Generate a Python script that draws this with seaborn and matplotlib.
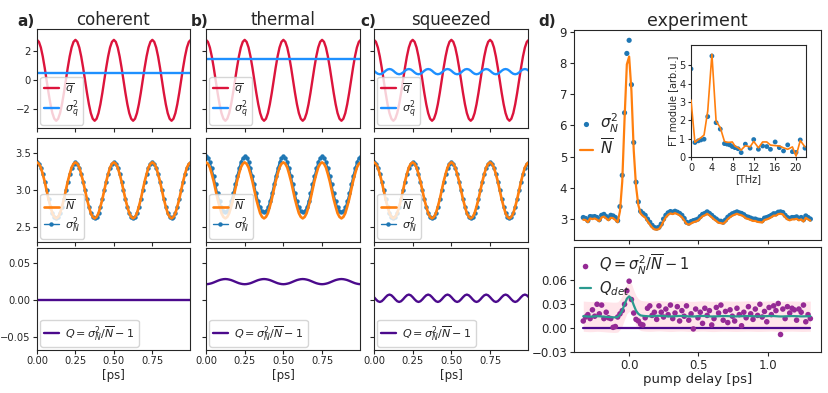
import numpy as np
import matplotlib
matplotlib.use('Agg')
import matplotlib.pyplot as plt
import seaborn as sns

# ---------------- theory panels a-c (time in ps) ----------------
t_theory = np.linspace(0, 1, 81)

q_mean = [2.80, 2.66, 2.27, 1.65, 0.87, 0.00, -0.87, -1.65, -2.27, -2.66, -2.80, -2.66, -2.27, -1.65, -0.87, 0.00, 0.87, 1.65, 2.27, 2.66,
          2.80, 2.66, 2.27, 1.65, 0.87, 0.00, -0.87, -1.65, -2.27, -2.66, -2.80, -2.66, -2.27, -1.65, -0.87, 0.00, 0.87, 1.65, 2.27, 2.66,
          2.80, 2.66, 2.27, 1.65, 0.87, 0.00, -0.87, -1.65, -2.27, -2.66, -2.80, -2.66, -2.27, -1.65, -0.87, 0.00, 0.87, 1.65, 2.27, 2.66,
          2.80, 2.66, 2.27, 1.65, 0.87, 0.00, -0.87, -1.65, -2.27, -2.66, -2.80, -2.66, -2.27, -1.65, -0.87, 0.00, 0.87, 1.65, 2.27, 2.66,
          2.80]

var_q_coherent = [0.5] * 81
var_q_thermal = [1.5] * 81
var_q_squeezed = [0.66, 0.54, 0.45, 0.42, 0.45, 0.54, 0.66, 0.75, 0.78, 0.75, 0.66, 0.54, 0.45, 0.42, 0.45, 0.54, 0.66, 0.75, 0.78, 0.75,
                  0.66, 0.54, 0.45, 0.42, 0.45, 0.54, 0.66, 0.75, 0.78, 0.75, 0.66, 0.54, 0.45, 0.42, 0.45, 0.54, 0.66, 0.75, 0.78, 0.75,
                  0.66, 0.54, 0.45, 0.42, 0.45, 0.54, 0.66, 0.75, 0.78, 0.75, 0.66, 0.54, 0.45, 0.42, 0.45, 0.54, 0.66, 0.75, 0.78, 0.75,
                  0.66, 0.54, 0.45, 0.42, 0.45, 0.54, 0.66, 0.75, 0.78, 0.75, 0.66, 0.54, 0.45, 0.42, 0.45, 0.54, 0.66, 0.75, 0.78, 0.75,
                  0.66]

N_mean = [3.38, 3.36, 3.31, 3.22, 3.12, 3.00, 2.88, 2.78, 2.69, 2.64, 2.62, 2.64, 2.69, 2.78, 2.88, 3.00, 3.12, 3.22, 3.31, 3.36,
          3.38, 3.36, 3.31, 3.22, 3.12, 3.00, 2.88, 2.78, 2.69, 2.64, 2.62, 2.64, 2.69, 2.78, 2.88, 3.00, 3.12, 3.22, 3.31, 3.36,
          3.38, 3.36, 3.31, 3.22, 3.12, 3.00, 2.88, 2.78, 2.69, 2.64, 2.62, 2.64, 2.69, 2.78, 2.88, 3.00, 3.12, 3.22, 3.31, 3.36,
          3.38, 3.36, 3.31, 3.22, 3.12, 3.00, 2.88, 2.78, 2.69, 2.64, 2.62, 2.64, 2.69, 2.78, 2.88, 3.00, 3.12, 3.22, 3.31, 3.36,
          3.38]

var_N_thermal = [3.46, 3.44, 3.39, 3.30, 3.20, 3.08, 2.96, 2.86, 2.77, 2.72, 2.70, 2.72, 2.77, 2.86, 2.96, 3.08, 3.20, 3.30, 3.39, 3.44,
                 3.46, 3.44, 3.39, 3.30, 3.20, 3.08, 2.96, 2.86, 2.77, 2.72, 2.70, 2.72, 2.77, 2.86, 2.96, 3.08, 3.20, 3.30, 3.39, 3.44,
                 3.46, 3.44, 3.39, 3.30, 3.20, 3.08, 2.96, 2.86, 2.77, 2.72, 2.70, 2.72, 2.77, 2.86, 2.96, 3.08, 3.20, 3.30, 3.39, 3.44,
                 3.46, 3.44, 3.39, 3.30, 3.20, 3.08, 2.96, 2.86, 2.77, 2.72, 2.70, 2.72, 2.77, 2.86, 2.96, 3.08, 3.20, 3.30, 3.39, 3.44,
                 3.46]

Q_coherent = [0.0] * 81
Q_thermal = [0.0210, 0.0212, 0.0217, 0.0224, 0.0234, 0.0245, 0.0256, 0.0266, 0.0273, 0.0278, 0.0280, 0.0278, 0.0273, 0.0266, 0.0256, 0.0245, 0.0234, 0.0224, 0.0217, 0.0212,
             0.0210, 0.0212, 0.0217, 0.0224, 0.0234, 0.0245, 0.0256, 0.0266, 0.0273, 0.0278, 0.0280, 0.0278, 0.0273, 0.0266, 0.0256, 0.0245, 0.0234, 0.0224, 0.0217, 0.0212,
             0.0210, 0.0212, 0.0217, 0.0224, 0.0234, 0.0245, 0.0256, 0.0266, 0.0273, 0.0278, 0.0280, 0.0278, 0.0273, 0.0266, 0.0256, 0.0245, 0.0234, 0.0224, 0.0217, 0.0212,
             0.0210, 0.0212, 0.0217, 0.0224, 0.0234, 0.0245, 0.0256, 0.0266, 0.0273, 0.0278, 0.0280, 0.0278, 0.0273, 0.0266, 0.0256, 0.0245, 0.0234, 0.0224, 0.0217, 0.0212,
             0.0210]
Q_squeezed = [0.0035, 0.0005, -0.0020, -0.0030, -0.0020, 0.0005, 0.0035, 0.0060, 0.0070, 0.0060, 0.0035, 0.0005, -0.0020, -0.0030, -0.0020, 0.0005, 0.0035, 0.0060, 0.0070, 0.0060,
              0.0035, 0.0005, -0.0020, -0.0030, -0.0020, 0.0005, 0.0035, 0.0060, 0.0070, 0.0060, 0.0035, 0.0005, -0.0020, -0.0030, -0.0020, 0.0005, 0.0035, 0.0060, 0.0070, 0.0060,
              0.0035, 0.0005, -0.0020, -0.0030, -0.0020, 0.0005, 0.0035, 0.0060, 0.0070, 0.0060, 0.0035, 0.0005, -0.0020, -0.0030, -0.0020, 0.0005, 0.0035, 0.0060, 0.0070, 0.0060,
              0.0035, 0.0005, -0.0020, -0.0030, -0.0020, 0.0005, 0.0035, 0.0060, 0.0070, 0.0060, 0.0035, 0.0005, -0.0020, -0.0030, -0.0020, 0.0005, 0.0035, 0.0060, 0.0070, 0.0060,
              0.0035]

# ---------------- experiment (panel d) ----------------
t_exp = np.linspace(-0.333, 1.31, 100)

var_N_exp = [3.05, 3.02, 2.95, 3.08, 3.07, 3.08, 3.05, 2.98, 3.12, 3.15, 3.08, 3.02, 3.12, 3.10, 3.05, 2.95,
             3.40, 4.40, 6.40, 8.30, 8.72, 7.30, 5.45, 4.18, 3.55, 3.25,
             3.18, 3.12, 3.00, 2.90, 2.80, 2.73, 2.71, 2.74, 2.84, 3.00, 3.12, 3.20, 3.24, 3.22,
             3.25, 3.22, 3.18, 3.12, 3.02, 2.90, 2.87, 2.92, 2.95, 2.97, 3.00, 3.08, 3.15, 3.18, 3.23, 3.18, 3.12, 3.05, 3.00, 2.94,
             2.93, 2.90, 2.97, 3.06, 3.12, 3.17, 3.20, 3.23, 3.20, 3.18, 3.14, 3.08, 3.06, 3.03, 3.00, 3.00, 2.97, 2.96, 2.95, 3.03,
             3.05, 3.08, 3.12, 3.17, 3.17, 3.22, 3.23, 3.21, 3.12, 3.05, 3.02, 3.05, 3.05, 3.07, 3.02, 3.05, 2.98, 3.10, 3.05, 3.00]

N_exp = [2.98, 2.97, 2.90, 3.02, 3.00, 3.02, 2.98, 2.93, 3.05, 3.08, 3.02, 2.96, 3.04, 3.03, 2.97, 2.90,
         3.25, 4.20, 6.20, 7.95, 8.20, 7.10, 5.20, 4.05, 3.45, 3.18,
         3.10, 3.05, 2.93, 2.83, 2.73, 2.67, 2.66, 2.68, 2.78, 2.93, 3.06, 3.14, 3.18, 3.16,
         3.19, 3.16, 3.12, 3.06, 2.96, 2.85, 2.82, 2.86, 2.90, 2.92, 2.95, 3.02, 3.09, 3.12, 3.17, 3.12, 3.06, 2.99, 2.94, 2.88,
         2.87, 2.85, 2.91, 3.00, 3.06, 3.11, 3.14, 3.17, 3.14, 3.12, 3.08, 3.02, 3.00, 2.97, 2.94, 2.94, 2.91, 2.90, 2.89, 2.97,
         2.99, 3.02, 3.06, 3.11, 3.11, 3.16, 3.17, 3.15, 3.06, 2.99, 2.96, 2.99, 2.99, 3.01, 2.96, 2.99, 2.92, 3.04, 2.99, 2.95]

Q_exp = [0.009, 0.014, 0.017, 0.012, 0.023, 0.015, 0.030, 0.018, 0.029, 0.012, 0.020, 0.013, 0.012, 0.001, 0.002, 0.014, 0.018, 0.022, 0.030, 0.047,
         0.059, 0.036, 0.019, 0.011, 0.009, 0.005, 0.004, 0.013, 0.025, 0.028, 0.016, 0.020, 0.011, 0.028, 0.020, 0.014, 0.024, 0.017, 0.029, 0.012,
         0.019, 0.027, 0.009, 0.022, 0.015, 0.028, 0.010, 0.018, -0.001, 0.024, 0.013, 0.020, 0.006, 0.025, 0.016, 0.022, 0.004, 0.012, 0.026, 0.019,
         0.029, 0.010, 0.021, 0.007, 0.023, 0.015, 0.009, 0.025, 0.017, 0.003, 0.020, 0.013, 0.027, 0.018, 0.011, 0.024, 0.016, 0.030, 0.014, 0.021,
         0.008, 0.026, 0.017, 0.028, 0.022, 0.031, -0.008, 0.024, 0.012, 0.027, 0.019, 0.025, 0.023, 0.010, 0.024, 0.020, 0.029, 0.008, 0.017, 0.012]

Q_det = [0.0150, 0.0148, 0.0146, 0.0145, 0.0146, 0.0148, 0.0150, 0.0149, 0.0147, 0.0145, 0.0142, 0.0140, 0.0138, 0.0136, 0.0136, 0.0140,
         0.0170, 0.0220, 0.0300, 0.0370, 0.0400, 0.0370, 0.0290, 0.0220, 0.0180, 0.0160,
         0.0155, 0.0152, 0.0150, 0.0149, 0.0150, 0.0152, 0.0154, 0.0155, 0.0154, 0.0152, 0.0150, 0.0148, 0.0147, 0.0148, 0.0150, 0.0152, 0.0153, 0.0153, 0.0152, 0.0150,
         0.0148, 0.0147, 0.0147, 0.0148, 0.0150, 0.0152, 0.0153, 0.0152, 0.0150, 0.0148, 0.0147, 0.0147, 0.0148, 0.0150, 0.0151, 0.0152, 0.0152, 0.0151, 0.0150, 0.0149,
         0.0148, 0.0148, 0.0149, 0.0150, 0.0151, 0.0152, 0.0152, 0.0151, 0.0150, 0.0149, 0.0148, 0.0148, 0.0149, 0.0150, 0.0151, 0.0152, 0.0153, 0.0152, 0.0150, 0.0148,
         0.0147, 0.0147, 0.0148, 0.0150, 0.0151, 0.0152, 0.0151, 0.0150, 0.0149, 0.0148, 0.0148, 0.0149, 0.0150, 0.0150]
Q_det_halfwidth = 0.019
Q_zero = [0.0] * 100

# inset: Fourier transform
freq_THz = [0.0, 0.75, 1.4, 1.9, 2.5, 3.2, 4.0, 4.8, 5.6, 6.4, 6.9, 7.4, 7.9, 8.4, 9.0, 9.6, 10.4, 11.3, 12.0, 12.9,
            13.7, 14.5, 15.2, 16.1, 16.9, 17.7, 18.5, 19.4, 20.1, 20.9, 21.8]
ft_var = [4.8, 0.79, 0.88, 0.93, 0.97, 2.2, 5.5, 1.87, 1.52, 0.73, 0.70, 0.66, 0.57, 0.51, 0.45, 0.24, 0.70, 0.48, 0.95, 0.42,
          0.60, 0.57, 0.42, 0.82, 0.51, 0.33, 0.66, 0.29, 0.25, 0.93, 0.48]
ft_mean = [3.1, 0.8, 0.95, 1.05, 1.2, 2.5, 5.6, 1.95, 1.6, 0.85, 0.8, 0.8, 0.82, 0.6, 0.5, 0.38, 0.62, 0.55, 0.85, 0.5,
           0.82, 0.82, 0.65, 0.62, 0.6, 0.5, 0.42, 0.55, 0.05, 0.9, 0.55]

titles = ['coherent', 'thermal', 'squeezed']
letters = ['a)', 'b)', 'c)']
letter_x = [17, 191, 360]
var_q_all = [var_q_coherent, var_q_thermal, var_q_squeezed]
var_N_all = [N_mean, var_N_thermal, N_mean]
Q_all = [Q_coherent, Q_thermal, Q_squeezed]

c_q = '#dc143c'
c_varq = '#1e90ff'
c_N = '#ff7f0e'
c_varN = '#1f77b4'
c_Q = '#4b0a8c'
c_Qexp = '#952a95'
c_Qdet = '#2a9a8f'

sns.set_style('ticks')
plt.rcParams['font.family'] = ['DejaVu Sans']
plt.rcParams['mathtext.fontset'] = 'dejavusans'

W, H = 829, 393
fig = plt.figure(figsize=(W / 100, H / 100), dpi=100)


def px_axes(l, t, r, b):
    return fig.add_axes([l / W, 1 - b / H, (r - l) / W, (b - t) / H])


def minus_fmt(fmt):
    return matplotlib.ticker.FuncFormatter(lambda v, p: (fmt % v).replace('-', '\u2212'))


cols = [(37, 190), (206, 360), (374, 528)]
rows = [(29, 128), (138, 242), (248, 350)]
tick_fs = 7.2
leg_kw = dict(loc='lower left', fontsize=8, handlelength=1.3, borderpad=0.35,
              labelspacing=0.25, borderaxespad=0.3, handletextpad=0.6)

for i, (l, r) in enumerate(cols):
    # row 1: quadrature mean and variance
    ax1 = px_axes(l, rows[0][0], r, rows[0][1])
    sns.lineplot(x=t_theory, y=q_mean, ax=ax1, color=c_q, lw=1.7, label=r'$\overline{q}$')
    sns.lineplot(x=t_theory, y=var_q_all[i], ax=ax1, color=c_varq, lw=1.7, label=r'$\sigma_q^2$')
    ax1.set_ylim(-3.3, 3.55)
    ax1.set_yticks([-2, 0, 2])
    ax1.yaxis.set_major_formatter(minus_fmt('%d'))
    ax1.legend(**leg_kw)
    ax1.set_title(titles[i], fontsize=12, pad=3)
    fig.text(letter_x[i] / W, 1 - 21 / H, letters[i], fontsize=11, fontweight='bold', va='center')

    # row 2: photon number mean and variance
    ax2 = px_axes(l, rows[1][0], r, rows[1][1])
    sns.lineplot(x=t_theory, y=N_mean, ax=ax2, color=c_N, lw=1.9, label=r'$\overline{N}$', zorder=3)
    sns.lineplot(x=t_theory, y=var_N_all[i], ax=ax2, color=c_varN, lw=1.0, marker='o', ms=3.2,
                 markeredgecolor=c_varN, mew=0, label=r'$\sigma_N^2$', zorder=2)
    ax2.set_ylim(2.3, 3.71)
    ax2.set_yticks([2.5, 3.0, 3.5])
    ax2.yaxis.set_major_formatter(matplotlib.ticker.FormatStrFormatter('%.1f'))
    ax2.legend(**leg_kw)

    # row 3: Mandel Q
    ax3 = px_axes(l, rows[2][0], r, rows[2][1])
    sns.lineplot(x=t_theory, y=Q_all[i], ax=ax3, color=c_Q, lw=1.7, label=r'$Q=\sigma_N^2/\overline{N}-1$')
    ax3.set_ylim(-0.068, 0.07)
    ax3.set_yticks([-0.05, 0.0, 0.05])
    ax3.yaxis.set_major_formatter(minus_fmt('%.2f'))
    ax3.legend(**leg_kw)
    ax3.set_xlabel('[ps]', fontsize=8.5, labelpad=2)
    ax3.xaxis.set_major_formatter(matplotlib.ticker.FormatStrFormatter('%.2f'))

    for a in (ax1, ax2, ax3):
        a.set_xlim(0, 0.995)
        a.set_xticks([0, 0.25, 0.5, 0.75])
        a.tick_params(labelsize=tick_fs, length=3, pad=1.5)
        if i > 0:
            a.tick_params(labelleft=False)
    ax1.tick_params(labelbottom=False)
    ax2.tick_params(labelbottom=False)

# ---------------- panel d, top ----------------
axd = px_axes(574, 30, 821, 240)
sns.scatterplot(x=t_exp, y=var_N_exp, ax=axd, color=c_varN, s=14, edgecolor='none', label=r'$\sigma_N^2$', zorder=2)
sns.lineplot(x=t_exp, y=N_exp, ax=axd, color=c_N, lw=1.6, label=r'$\overline{N}$', zorder=3)
axd.set_xlim(-0.40, 1.387)
axd.set_ylim(2.33, 9.05)
axd.set_xticks([0, 0.5, 1.0])
axd.set_yticks([3, 4, 5, 6, 7, 8, 9])
axd.tick_params(labelbottom=False, labelsize=8.5, length=3, pad=2)
axd.legend(loc='center left', bbox_to_anchor=(-0.03, 0.5), frameon=False, fontsize=11,
           handlelength=0.8, handletextpad=0.5, labelspacing=0.2)
axd.set_title('experiment', fontsize=12.5, pad=3)
fig.text(538 / W, 1 - 21 / H, 'd)', fontsize=11, fontweight='bold', va='center')

# inset
axi = px_axes(691, 45, 806, 157)
sns.scatterplot(x=freq_THz, y=ft_var, ax=axi, color=c_varN, s=12, edgecolor='none', zorder=2)
sns.lineplot(x=freq_THz, y=ft_mean, ax=axi, color=c_N, lw=1.2, zorder=3)
axi.set_xlim(0, 22)
axi.set_ylim(0, 6.1)
axi.set_xticks([0, 4, 8, 12, 16, 20])
axi.set_yticks([0, 1, 2, 3, 4, 5])
axi.tick_params(labelsize=7, length=2.5, pad=1.5)
axi.set_xlabel('[THz]', fontsize=7, labelpad=1)
axi.set_ylabel('FT module [arb.u.]', fontsize=7, labelpad=1)

# ---------------- panel d, bottom ----------------
axq = px_axes(574, 247, 821, 352)
Q_det_arr = np.array(Q_det)
axq.fill_between(t_exp, Q_det_arr - Q_det_halfwidth, Q_det_arr + Q_det_halfwidth, color='pink', alpha=0.4, lw=0)
sns.lineplot(x=t_exp, y=Q_zero, ax=axq, color=c_Q, lw=1.6)
sns.scatterplot(x=t_exp, y=Q_exp, ax=axq, color=c_Qexp, s=16, edgecolor='none',
                label=r'$Q=\sigma_N^2/\overline{N}-1$', zorder=3)
sns.lineplot(x=t_exp, y=Q_det, ax=axq, color=c_Qdet, lw=1.6, label=r'$Q_{det}$', zorder=4)
axq.set_xlim(-0.40, 1.387)
axq.set_ylim(-0.03, 0.102)
axq.set_xticks([0, 0.5, 1.0])
axq.set_yticks([-0.03, 0.0, 0.03, 0.06])
axq.yaxis.set_major_formatter(minus_fmt('%.2f'))
axq.tick_params(labelsize=8.5, length=3, pad=2)
axq.set_xlabel('pump delay [ps]', fontsize=9.5, labelpad=1)
axq.legend(loc='upper left', bbox_to_anchor=(-0.03, 1.07), frameon=False, fontsize=10.5,
           handlelength=0.8, handletextpad=0.5, labelspacing=0.15)

fig.savefig('out.png', dpi=100)
